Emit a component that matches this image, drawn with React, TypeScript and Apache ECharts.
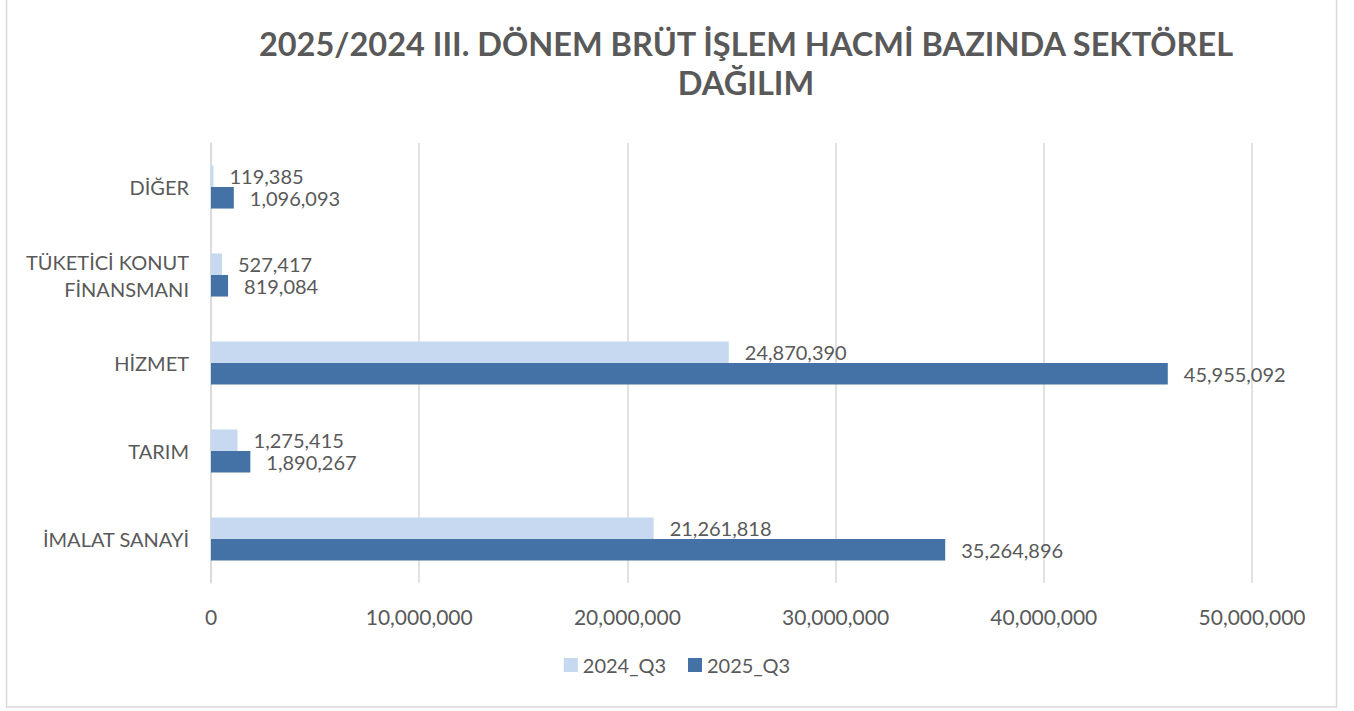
import React, { useEffect, useRef } from "react";
import * as echarts from "echarts";

const categories = ["İMALAT SANAYİ", "TARIM", "HİZMET", "TÜKETİCİ KONUT\nFİNANSMANI", "DİĞER"];
const series2024 = [21261818, 1275415, 24870390, 527417, 119385];
const series2025 = [35264896, 1890267, 45955092, 819084, 1096093];
const seriesNames = ["2024_Q3", "2025_Q3"];
const titleText = "2025/2024 III. DÖNEM BRÜT İŞLEM HACMİ BAZINDA SEKTÖREL\nDAĞILIM";

const FONT = "Lato, 'Open Sans', sans-serif";
const TXT = "#595959";
const fmt = (v: number) => v.toLocaleString("en-US");

export default function App() {
  const ref = useRef<HTMLDivElement>(null);
  useEffect(() => {
    if (!ref.current) return;
    const chart = echarts.init(ref.current, null, { renderer: "svg" });
    const labelStyle = {
      show: true,
      position: "right",
      distance: 16,
      fontFamily: FONT,
      fontSize: 20,
      lineHeight: 19,
      color: TXT,
      formatter: (p: any) => fmt(p.value),
    };
    chart.setOption({
      animation: false,
      backgroundColor: "#ffffff",
      textStyle: { fontFamily: FONT },
      title: {
        text: titleText,
        left: 741,
        top: 19,
        textAlign: "center",
        textStyle: { fontFamily: FONT, fontSize: 32.5, fontWeight: "bold", color: TXT, lineHeight: 39 },
      },
      graphic: [
        {
          type: "rect",
          shape: { x: 6.5, y: -5, width: 1330, height: 712 },
          style: { fill: "none", stroke: "#D9D9D9", lineWidth: 1.5 },
          silent: true,
        },
      ],
      legend: {
        data: seriesNames,
        bottom: 31,
        left: "center",
        itemWidth: 14,
        itemHeight: 14,
        itemGap: 22,
        icon: "rect",
        textStyle: { fontFamily: FONT, fontSize: 20, color: TXT },
      },
      grid: { left: 211, right: 102, top: 143, bottom: 128, containLabel: false },
      xAxis: {
        type: "value",
        min: 0,
        max: 50000000,
        interval: 10000000,
        axisLine: { show: false },
        axisTick: { show: false },
        splitLine: { show: true, lineStyle: { color: "#D9D9D9", width: 1.5 } },
        axisLabel: { fontFamily: FONT, fontSize: 21, color: TXT, margin: 23, formatter: (v: number) => fmt(v) },
      },
      yAxis: {
        type: "category",
        data: categories,
        axisLine: { show: true, lineStyle: { color: "#D9D9D9", width: 1.5 } },
        axisTick: { show: false },
        axisLabel: { fontFamily: FONT, fontSize: 20, color: TXT, margin: 22, lineHeight: 27, align: "right" },
      },
      series: [
        {
          name: seriesNames[0],
          type: "bar",
          data: series2024,
          barGap: "0%",
          barCategoryGap: "51%",
          itemStyle: { color: "#C6D9F0" },
          label: labelStyle,
        },
        {
          name: seriesNames[1],
          type: "bar",
          data: series2025,
          barGap: "0%",
          barCategoryGap: "51%",
          itemStyle: { color: "#4472A6" },
          label: labelStyle,
        },
      ],
    });
    return () => chart.dispose();
  }, []);
  return (
    <div
      ref={ref}
      style={{ position: "absolute", left: 0, top: 0, width: 1354, height: 711 }}
    />
  );
}
